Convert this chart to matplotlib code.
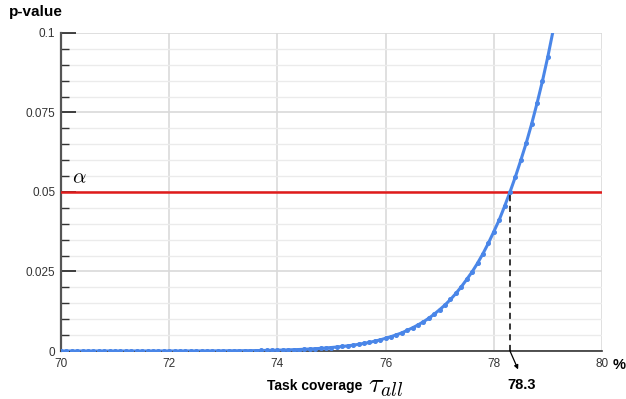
import matplotlib
matplotlib.use("Agg")
import matplotlib.pyplot as plt
from matplotlib.ticker import MultipleLocator
import numpy as np

plt.rcParams['font.family'] = ['Liberation Sans', 'DejaVu Sans']
plt.rcParams['mathtext.fontset'] = 'cm'

# task coverage (%) sampled every 0.1 from 70.0 to 79.1
coverage = np.round(np.arange(700, 792) / 10.0, 1)

# p-values
p_values = [
    # 70.0 - 70.9
    0.0000004, 0.0000005, 0.0000006, 0.0000007, 0.0000008, 0.0000009, 0.0000011, 0.0000013, 0.0000015, 0.0000017,
    # 71.0 - 71.9
    0.000002, 0.0000023, 0.0000027, 0.0000031, 0.0000036, 0.0000041, 0.0000047, 0.0000054, 0.0000062, 0.0000070,
    # 72.0 - 72.9
    0.0000080, 0.0000095, 0.000011, 0.000013, 0.000015, 0.000018, 0.000022, 0.000027, 0.000032, 0.000039,
    # 73.0 - 73.9
    0.000047, 0.000056, 0.000067, 0.00008, 0.000095, 0.00011, 0.00013, 0.00016, 0.00019, 0.00022,
    # 74.0 - 74.9
    0.00026, 0.00030, 0.00035, 0.00041, 0.00047, 0.00055, 0.00063, 0.00072, 0.00083, 0.00096,
    # 75.0 - 75.9
    0.00110, 0.00125, 0.00142, 0.00162, 0.00184, 0.0021, 0.0024, 0.0027, 0.0031, 0.0035,
    # 76.0 - 76.9
    0.0040, 0.0045, 0.0051, 0.0057, 0.0065, 0.0073, 0.0082, 0.0092, 0.0103, 0.0116,
    # 77.0 - 77.9
    0.0130, 0.0145, 0.0162, 0.0181, 0.0202, 0.0225, 0.0249, 0.0276, 0.0306, 0.0339,
    # 78.0 - 78.9
    0.0375, 0.0412, 0.0455, 0.0500, 0.0548, 0.0600, 0.0654, 0.0714, 0.0779, 0.0849,
    # 79.0 - 79.1
    0.0926, 0.1010,
]

x_ticks = [70, 72, 74, 76, 78, 80]
y_ticks = [0, 0.025, 0.05, 0.075, 0.1]
y_labels = ['0', '0.025', '0.05', '0.075', '0.1']

alpha = 0.05
threshold = 78.3

fig = plt.figure(figsize=(6.26, 3.99), dpi=100)
ax = fig.add_axes([0.0974, 0.1203, 0.8642, 0.797])

ax.set_xlim(70, 80)
ax.set_ylim(0, 0.1)

ax.set_xticks(x_ticks)
ax.set_xticklabels([str(v) for v in x_ticks])
ax.set_yticks(y_ticks)
ax.set_yticklabels(y_labels)
ax.yaxis.set_minor_locator(MultipleLocator(0.005))

# grid
ax.grid(axis='x', which='major', color='#dddddd', lw=1.3)
ax.grid(axis='y', which='major', color='#d9d9d9', lw=1.2)
ax.grid(axis='y', which='minor', color='#ebebeb', lw=1.0)
ax.set_axisbelow(True)

for s in ['top', 'right']:
    ax.spines[s].set_visible(False)
ax.spines['left'].set_color('#555555')
ax.spines['left'].set_linewidth(1.6)
ax.spines['bottom'].set_color('#333333')
ax.spines['bottom'].set_linewidth(1.2)

ax.tick_params(axis='y', which='major', direction='in', length=11, width=1.2, color='#222222',
               labelsize=8.5, pad=4, labelcolor='#333333')
ax.tick_params(axis='y', which='minor', direction='in', length=6, width=1.0, color='#333333')
ax.tick_params(axis='x', which='major', length=0, labelsize=8.5, pad=5, labelcolor='#333333')

# alpha line
ax.axhline(alpha, color='#e01b1b', lw=1.8, zorder=3)
ax.text(70.2, alpha + 0.0015, r'$\alpha$', fontsize=15, ha='left', va='bottom')

# p-value curve
ax.plot(coverage, p_values, color='#4a86e8', lw=2.2, marker='o', ms=2.6,
        clip_on=True, zorder=4)

# threshold
ax.plot([threshold, threshold], [0, alpha], color='black', lw=1.1, ls=(0, (4, 3)), zorder=5)
ax.annotate('', xy=(threshold + 0.15, -0.0058), xytext=(threshold, 0),
            annotation_clip=False,
            arrowprops=dict(arrowstyle='-|>', color='black', lw=0.9, mutation_scale=6,
                            shrinkA=0, shrinkB=0))
ax.text(threshold + 0.21, -0.0085, '78.3', fontsize=10.5, fontweight='bold',
        ha='center', va='top')

# labels
fig.text(9 / 626, 1 - 12 / 399, 'p-value', fontsize=11, fontweight='bold', ha='left', va='center')
ax.text(80.2, -0.0045, '%', fontsize=10.5, fontweight='bold', ha='left', va='center')
fig.text(315 / 626, 1 - 390 / 399, 'Task coverage', fontsize=10, fontweight='bold',
         ha='center', va='baseline')
fig.text(368 / 626, 1 - 392 / 399, r'$\tau_{all}$', fontsize=20, ha='left', va='baseline')

fig.savefig('out.png', dpi=100)
